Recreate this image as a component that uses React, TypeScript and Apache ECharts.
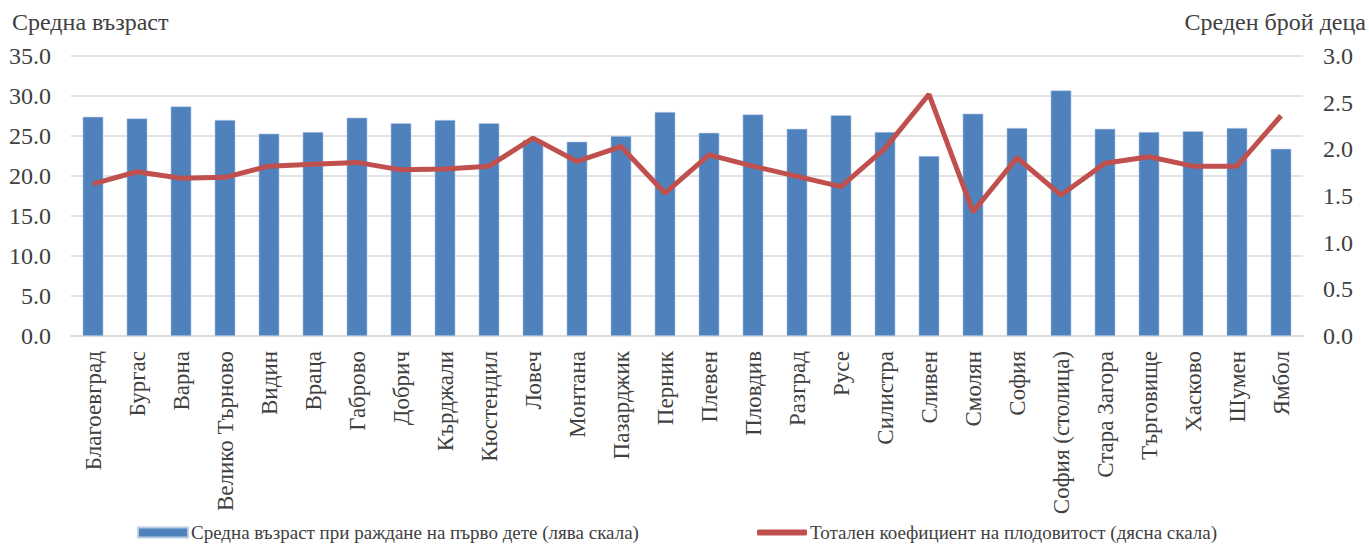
import React, { useEffect, useRef } from "react";
import * as echarts from "echarts";

const categories = [
  "Благоевград", "Бургас", "Варна", "Велико Търново", "Видин", "Враца", "Габрово",
  "Добрич", "Кърджали", "Кюстендил", "Ловеч", "Монтана", "Пазарджик", "Перник",
  "Плевен", "Пловдив", "Разград", "Русе", "Силистра", "Сливен", "Смолян", "София",
  "София (столица)", "Стара Загора", "Търговище", "Хасково", "Шумен", "Ямбол",
];

const ageFirstChild = [
  27.4, 27.2, 28.7, 27.0, 25.3, 25.5, 27.3, 26.6, 27.0, 26.6, 24.5, 24.3, 25.0, 28.0,
  25.4, 27.7, 25.9, 27.6, 25.5, 22.5, 27.8, 26.0, 30.7, 25.9, 25.5, 25.6, 26.0, 23.4,
];

const fertilityRate = [
  1.63, 1.76, 1.69, 1.7, 1.82, 1.84, 1.86, 1.78, 1.79, 1.82, 2.12, 1.87, 2.03, 1.53,
  1.94, 1.82, 1.71, 1.6, 2.01, 2.59, 1.33, 1.91, 1.51, 1.85, 1.92, 1.82, 1.82, 2.36,
];

const barName = "Средна възраст при раждане на първо дете (лява скала)";
const lineName = "Тотален коефициент на плодовитост (дясна скала)";
const leftTitle = "Средна възраст";
const rightTitle = "Среден брой деца";

const FONT = "'Liberation Serif', 'Times New Roman', serif";
const TEXT = "#404040";

export default function App() {
  const ref = useRef<HTMLDivElement>(null);
  useEffect(() => {
    document.body.style.margin = "0";
    if (!ref.current) return;
    const chart = echarts.init(ref.current, null, { renderer: "svg" });
    chart.setOption({
      animation: false,
      textStyle: { fontFamily: FONT },
      grid: { left: 71, right: 66, top: 56, bottom: 208, containLabel: false },
      legend: [
        {
          data: [{ name: barName, icon: "rect" }],
          left: 137,
          top: 523,
          padding: 0,
          itemWidth: 50,
          itemHeight: 10,
          textStyle: { fontFamily: FONT, fontSize: 19, color: TEXT, padding: [0, 0, 0, -2] },
        },
        {
          data: [{ name: lineName, icon: "roundRect" }],
          left: 757,
          top: 523,
          padding: 0,
          itemWidth: 50,
          itemHeight: 6,
          textStyle: { fontFamily: FONT, fontSize: 19, color: TEXT, padding: [0, 0, 0, -2] },
        },
      ],
      graphic: [
        {
          type: "text",
          left: 12,
          top: 10,
          style: { text: leftTitle, font: `24px ${FONT}`, fill: TEXT },
        },
        {
          type: "text",
          right: 3,
          top: 10,
          style: { text: rightTitle, font: `24px ${FONT}`, fill: TEXT },
        },
      ],
      xAxis: {
        type: "category",
        data: categories,
        axisLine: { lineStyle: { color: "#D9D9D9", width: 1.5 } },
        axisTick: { show: false },
        axisLabel: {
          rotate: 90,
          interval: 0,
          margin: 15,
          fontFamily: FONT,
          fontSize: 23,
          color: TEXT,
        },
      },
      yAxis: [
        {
          type: "value",
          min: 0,
          max: 35,
          interval: 5,
          axisLine: { show: false },
          axisTick: { show: false },
          splitLine: { lineStyle: { color: "#D9D9D9", width: 1.5 } },
          axisLabel: {
            margin: 20,
            fontFamily: FONT,
            fontSize: 24,
            color: TEXT,
            formatter: (v: number) => v.toFixed(1),
          },
        },
        {
          type: "value",
          min: 0,
          max: 3,
          interval: 0.5,
          axisLine: { show: false },
          axisTick: { show: false },
          splitLine: { show: false },
          axisLabel: {
            margin: 20,
            fontFamily: FONT,
            fontSize: 24,
            color: TEXT,
            formatter: (v: number) => v.toFixed(1),
          },
        },
      ],
      series: [
        {
          name: barName,
          type: "bar",
          data: ageFirstChild,
          yAxisIndex: 0,
          barWidth: "47%",
          itemStyle: { color: "#4F81BD", borderColor: "#B9CDE5", borderWidth: 0.6 },
        },
        {
          name: lineName,
          type: "line",
          data: fertilityRate,
          yAxisIndex: 1,
          symbol: "none",
          lineStyle: { color: "#C0504D", width: 5 },
          itemStyle: { color: "#C0504D" },
        },
      ],
    });
    return () => chart.dispose();
  }, []);
  return <div ref={ref} style={{ width: 1369, height: 544 }} />;
}
